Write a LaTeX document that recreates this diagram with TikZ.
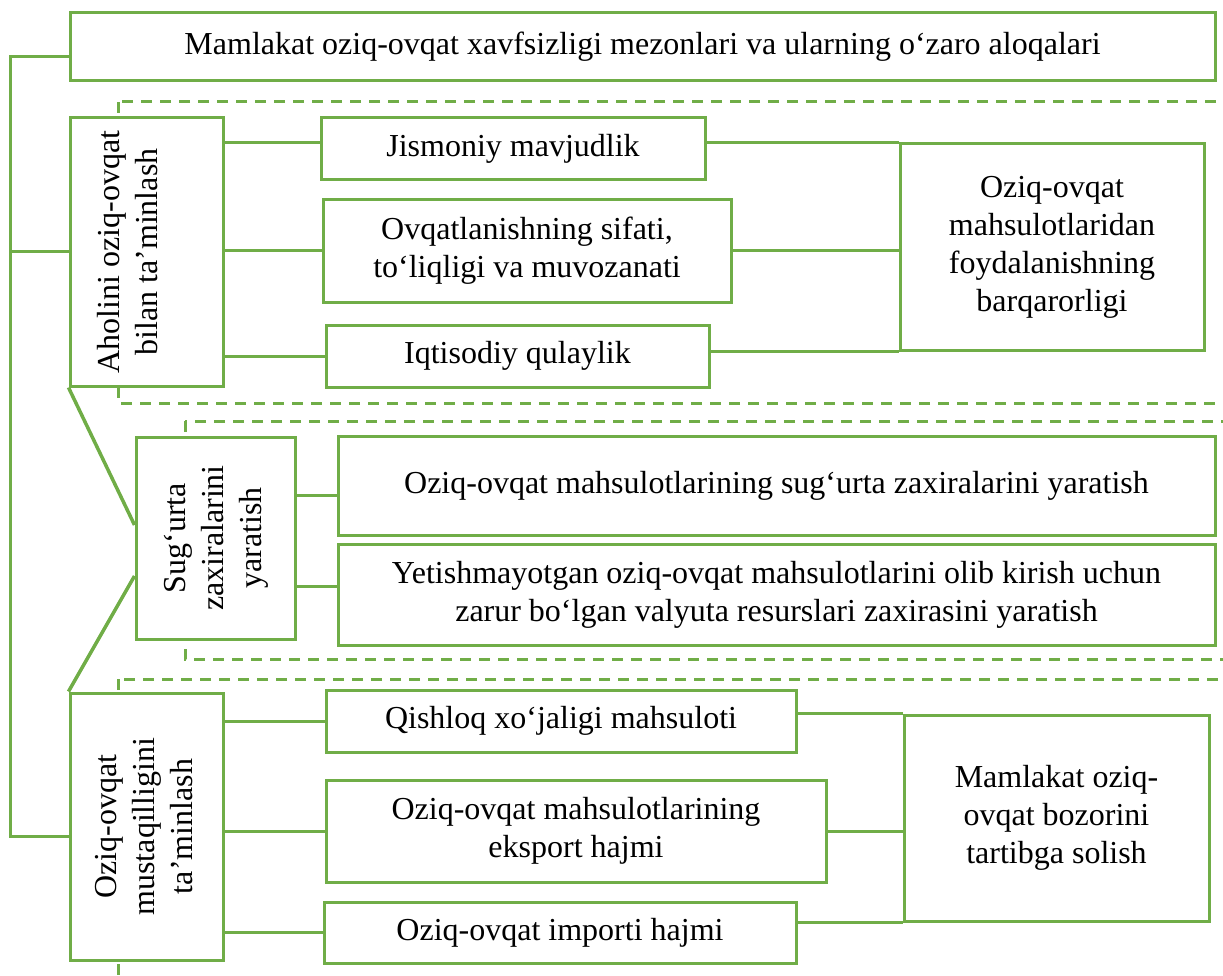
\documentclass[tikz,border=0pt]{standalone}
\usepackage{fontspec}
\setmainfont{Liberation Serif}
\usetikzlibrary{calc}
\definecolor{leafgreen}{RGB}{112,173,71}
\newcommand{\vtext}[1]{\rotatebox{90}{\begin{tabular}{@{}c@{}}#1\end{tabular}}}

\begin{document}
\begin{tikzpicture}
[x=1pt,y=-1pt,
  nodedecorate/.style={shape=rectangle,draw=leafgreen,line width=3pt,fill=white,
    inner sep=4pt,align=center,font=\fontsize{32}{38}\selectfont},%
  linedecorate/.style={-,draw=leafgreen,line width=3pt},%
  groupdecorate/.style={draw=leafgreen,line width=3pt,dash pattern=on 11pt off 8pt}]
\useasboundingbox (0,0) rectangle (1223,976);
\clip (0,0) rectangle (1223,976);
%% dashed groups
\draw[groupdecorate] (118,102) rectangle (1240,403);
\draw[groupdecorate] (185,421) rectangle (1240,659);
\draw[groupdecorate] (118,679) rectangle (1240,1000);
%% boxes
\foreach \nodename/\x/\y/\w/\h/\nodetext in {
  top/642.5/47/1145/68/{Mamlakat oziq-ovqat xavfsizligi mezonlari va ularning o‘zaro aloqalari},
  jismoniy/513/149/384/62/{Jismoniy mavjudlik},
  ovqat/527/251/408/102/{Ovqatlanishning sifati,\\to‘liqligi va muvozanati},
  iqtisod/517.5/356/383/62/{Iqtisodiy qulaylik},
  barqaror/1052/247/304/206/{Oziq-ovqat\\mahsulotlaridan\\foydalanishning\\barqarorligi},
  zaxira/776.5/485.5/877/99/{Oziq-ovqat mahsulotlarining sug‘urta zaxiralarini yaratish},
  valyuta/776.5/594.5/877/101/{Yetishmayotgan oziq-ovqat mahsulotlarini olib kirish uchun\\zarur bo‘lgan valyuta resurslari zaxirasini yaratish},
  qishloq/561/721/470/62/{Qishloq xo‘jaligi mahsuloti},
  eksport/576/831/500/102/{Oziq-ovqat mahsulotlarining\\eksport hajmi},
  import/560/932.5/472/61/{Oziq-ovqat importi hajmi},
  bozor/1056.5/818/305/206/{Mamlakat oziq-\\ovqat bozorini\\tartibga solish}}
{
  \node (\nodename) at (\x,\y) [nodedecorate,minimum width=\w pt,minimum height=\h pt] {\nodetext};
}
\node (aholini) at (146.5,252) [nodedecorate,minimum width=153pt,minimum height=268pt]
  {\vtext{Aholini oziq-ovqat\\bilan ta’minlash}\hspace*{32pt}};
\node (sugurta) at (215.5,538) [nodedecorate,minimum width=159pt,minimum height=202pt]
  {\vtext{Sug‘urta\\zaxiralarini\\yaratish}};
\node (mustaqil) at (146.5,826.5) [nodedecorate,minimum width=153pt,minimum height=267pt]
  {\vtext{Oziq-ovqat\\mustaqilligini\\ta’minlash}};
%% trunk
\draw[linedecorate] ([yshift=-10pt]top.west) -- ++(-58pt,0) coordinate (trunk)
  |- ([yshift=-9.5pt]mustaqil.west);
\draw[linedecorate] (trunk |- aholini.west) -- (aholini.west);
%% first group
\draw[linedecorate] (aholini.east |- barqaror.north) -- (jismoniy.west |- barqaror.north);
\draw[linedecorate] (jismoniy.east |- barqaror.north) -- (barqaror.north west);
\foreach \leafname in {ovqat, iqtisod}
  \draw[linedecorate] (aholini.east |- \leafname.west) -- (\leafname.west);
\draw[linedecorate] (ovqat.east) -- (barqaror.west |- ovqat.east);
\draw[linedecorate] (iqtisod.east |- barqaror.south) -- (barqaror.south west);
%% second group
\draw[linedecorate,line width=3.5pt] (aholini.south west) -- ([yshift=13pt]sugurta.west);
\draw[linedecorate,line width=3.5pt] ([yshift=-38pt]sugurta.west) -- (mustaqil.north west);
\draw[linedecorate] ([yshift=43pt]sugurta.east) coordinate (s1) -- (s1 -| zaxira.west);
\draw[linedecorate] ([yshift=-48pt]sugurta.east) coordinate (s2) -- (s2 -| valyuta.west);
%% third group
\foreach \leafname in {qishloq, eksport, import}
  \draw[linedecorate] (mustaqil.east |- \leafname.west) -- (\leafname.west);
\draw[linedecorate] (qishloq.east |- bozor.north) -- (bozor.north west);
\draw[linedecorate] (eksport.east) -- (bozor.west |- eksport.east);
\draw[linedecorate] (import.east |- bozor.south) -- (bozor.south west);
\end{tikzpicture}
\end{document}
